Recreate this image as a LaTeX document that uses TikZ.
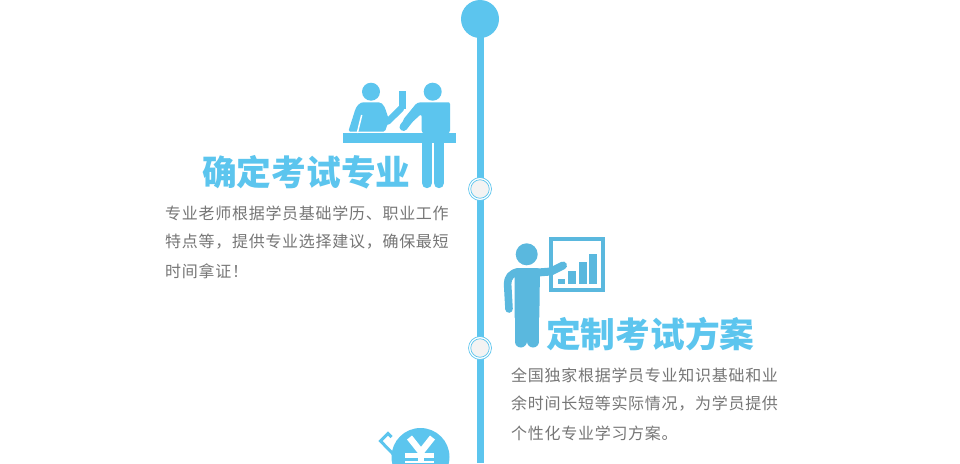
\documentclass[tikz,border=0pt]{standalone}
\usepackage{fontspec}
\setmainfont{Noto Sans CJK SC}[BoldFont={Noto Sans CJK SC Black}]
\definecolor{sky}{HTML}{5CC5EE}
\definecolor{teal}{HTML}{5AB8DE}
\definecolor{bodytext}{HTML}{767676}
\definecolor{dotfill}{HTML}{F3F3F3}
\tikzset{
 titletext/.style={anchor=west,inner sep=0pt,text=sky,font=\fontsize{34.7}{35}\selectfont\bfseries},
 bodyline/.style={anchor=west,inner sep=0pt,text=bodytext,font=\fontsize{16}{16}\selectfont\addfontfeature{LetterSpace=4.5}},
 spine/.style={line width=7pt,draw=sky},
 limb/.style={line cap=round,line join=round},
 dot/.style={circle,inner sep=0pt,minimum size=#1,fill=sky},
}
\begin{document}
\begin{tikzpicture}[x=1pt,y=-1pt]
\useasboundingbox (0,0) rectangle (960,463);
\clip (0,0) rectangle (960,463);
\fill[white] (0,0) rectangle (960,463);
% spine
\coordinate (bottomend) at (480.5,463);
\node[dot=38pt] (head) at (480,19) {};
\draw[spine] (bottomend |- head.center) -- (bottomend);
\foreach \n/\yy in {dotA/189,dotB/348}{
 \node[circle,inner sep=0pt,minimum size=23pt,fill=white,draw=sky,line width=.7pt] (\n) at (480,\yy) {};
 \node[circle,inner sep=0pt,minimum size=18.5pt,fill=dotfill,draw=sky,line width=.7pt] at (480,\yy) {};
}
% first pictogram
\begin{scope}[fill=sky,draw=sky]
\fill (371,91.7) circle (9);
\fill (432.7,91.7) circle (9);
\fill (343,133.3) rectangle (455.7,143.3);
\fill (398.7,90.7) rectangle (406.3,108.5);
% left person
\fill[rounded corners=1.5pt] (348.3,131.5) -- (354.5,112) .. controls (356.5,105.5) and (360,102.3) .. (365,102.3) -- (377,102.3) .. controls (381,102.3) and (383,104) .. (385,108) -- (389,120) -- (385,131.5) -- cycle;
\draw[white,line width=1.5pt] (361.7,115) -- (357.3,133);
\draw[limb,line width=6.5pt] (387.8,121.5) -- (401,108.5);
% right person
\fill[rounded corners=3pt] (417.3,102.3) -- (446,102.3) .. controls (449,102.3) and (450,104) .. (450,107) -- (450,133.5) -- (421.7,133.5) -- (421.7,113.5) -- (408,126) -- (402,121) -- cycle;
\draw[limb,line width=8pt] (403.5,127) -- (419,107);
\draw[limb,line width=10.4pt] (426.9,140) -- (426.9,183);
\draw[limb,line width=10.4pt] (438.8,140) -- (438.8,183);
\end{scope}
% second pictogram
\begin{scope}[fill=teal,draw=teal]
\fill (526.7,254.3) circle (11);
\draw[line width=4pt] (551.3,239) rectangle (603.3,289.7);
\fill (558.3,279.3) rectangle (565,284);
\fill (568.3,271) rectangle (575.7,284);
\fill (579,262.3) rectangle (586.7,284);
\fill (589.3,254.3) rectangle (596.7,284);
\fill[rounded corners=3pt] (514.5,268) -- (540,268) -- (539.3,320) -- (514.5,320) -- cycle;
\draw[limb,line width=8pt] (538,272.5) -- (551,271.5) -- (563,265.5);
\draw[limb,line width=7.6pt] (519,271.8) .. controls (511,272.5) and (507.5,278) .. (507.6,284) -- (509,309);
\draw[limb,line width=12pt] (520.5,315) -- (520.5,341.5);
\draw[limb,line width=12pt] (533.2,315) -- (533.2,341.5);
\end{scope}
% third pictogram, cut by the lower edge
\node[circle,inner sep=0pt,minimum size=58pt,fill=sky] (coin) at (420.5,457) {};
\coordinate (handleA) at (396,457);
\coordinate (handleB) at (380.5,441);
\coordinate (handleC) at (388,433.5);
\coordinate (handleD) at (391.5,437);
\draw[sky,line width=3pt] (handleA) -- (handleB) -- (handleC) -- (handleD);
\draw[white,line width=6.4pt] (409.5,437.5) -- (421,452) -- (432.5,437.5);
\draw[white,line width=6.4pt] (421,452) -- (421,463);
\fill[white] (405,453) rectangle (434,457.5);
\fill[white] (405,460.5) rectangle (434,463);
% texts
\node[titletext] (titleA) at (202,172) {确定考试专业};
\node[bodyline] (a1) at (165,213) {专业老师根据学员基础学历、职业工作};
\node[bodyline] (a2) at (165,242) {特点等，提供专业选择建议，确保最短};
\node[bodyline] (a3) at (165,271) {时间拿证！};
\node[titletext] (titleB) at (546,334) {定制考试方案};
\node[bodyline] (b1) at (511,375) {全国独家根据学员专业知识基础和业};
\node[bodyline] (b2) at (511,404) {余时间长短等实际情况，为学员提供};
\node[bodyline] (b3) at (511,433) {个性化专业学习方案。};
\end{tikzpicture}
\end{document}
